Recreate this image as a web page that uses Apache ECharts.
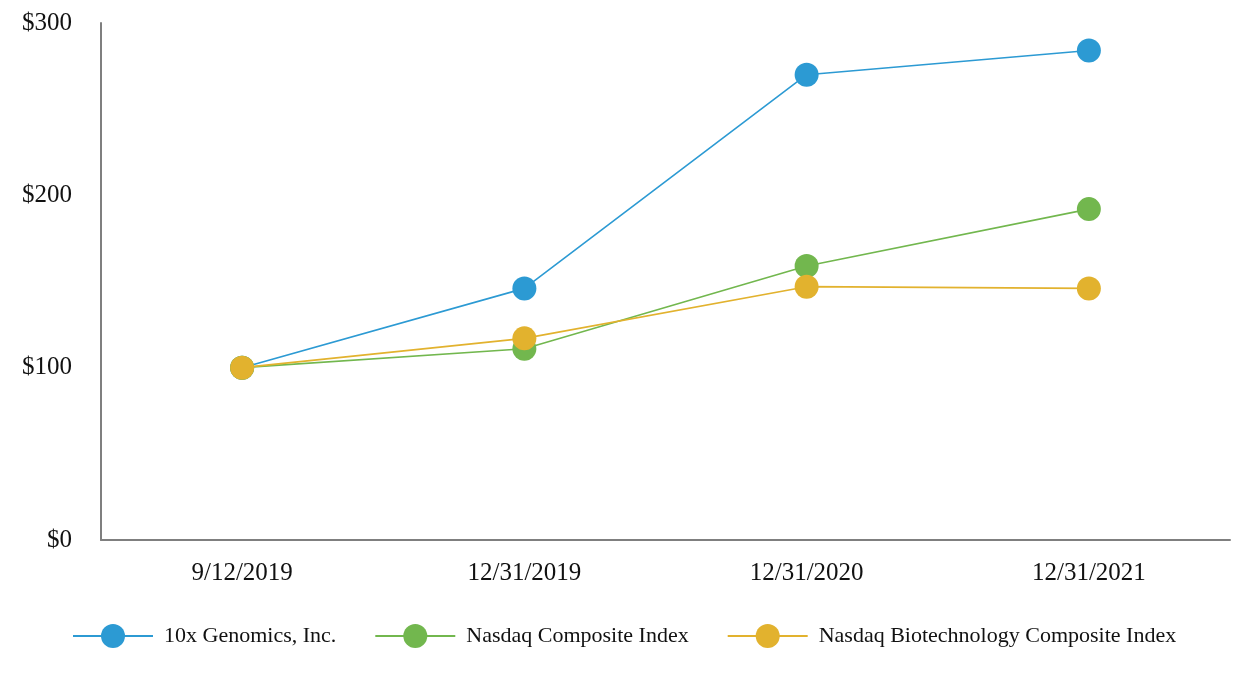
<!DOCTYPE html>
<html><head><meta charset="utf-8">
<script src="https://cdn.jsdelivr.net/npm/echarts@6/dist/echarts.min.js"></script>
<style>html,body{margin:0;padding:0;background:#fff}#c{width:1250px;height:674px}</style>
</head><body><div id="c"></div>
<script>
const categories = ['9/12/2019', '12/31/2019', '12/31/2020', '12/31/2021'];
const genomics = [100, 146, 270, 284];
const nasdaq = [100, 111, 159, 192];
const biotech = [100, 117, 147, 146];
const seriesNames = ['10x Genomics, Inc.', 'Nasdaq Composite Index', 'Nasdaq Biotechnology Composite Index'];
const colors = ['#2C9AD3', '#72B74E', '#E2B22E'];
const font = '"Liberation Serif", "Times New Roman", serif';
const chart = echarts.init(document.getElementById('c'));
const mk = (name, data, color) => ({
  name, type: 'line', data, symbol: 'circle', symbolSize: 24,
  itemStyle: { color }, lineStyle: { color, width: 1.6 }
});
chart.setOption({
  animation: false,
  color: colors,
  grid: { left: 101, right: 20, top: 23, bottom: 134 },
  legend: {
    top: 624, left: 72, padding: 0, itemWidth: 80, itemHeight: 30, itemGap: 38,
    textStyle: { fontFamily: font, fontSize: 22, color: '#111', padding: [0, 0, 0, 6] },
    data: seriesNames
  },
  xAxis: {
    type: 'category', data: categories, boundaryGap: true,
    axisLine: { lineStyle: { color: '#7f7f7f', width: 2 } },
    axisTick: { alignWithLabel: true, length: 10, lineStyle: { color: '#7f7f7f', width: 2 } },
    axisLabel: { fontFamily: font, fontSize: 25, color: '#111', margin: 21 }
  },
  yAxis: {
    type: 'value', min: 0, max: 300, interval: 100,
    axisLine: { show: true, lineStyle: { color: '#7f7f7f', width: 2 } },
    axisTick: { show: false }, splitLine: { show: false },
    axisLabel: { fontFamily: font, fontSize: 25, color: '#111', margin: 29, formatter: v => '$' + v }
  },
  series: [
    mk(seriesNames[0], genomics, colors[0]),
    mk(seriesNames[1], nasdaq, colors[1]),
    mk(seriesNames[2], biotech, colors[2])
  ]
});
</script></body></html>
